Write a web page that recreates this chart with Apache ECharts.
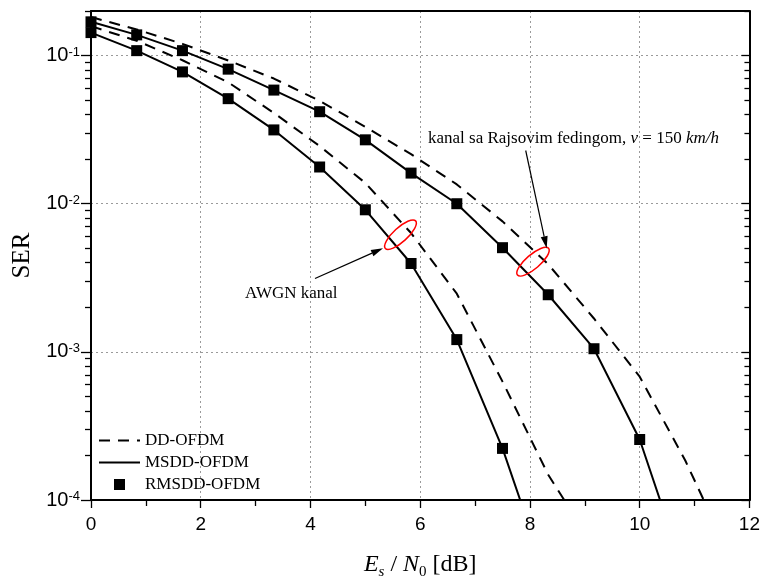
<!DOCTYPE html>
<html><head><meta charset="utf-8">
<script src="https://cdn.jsdelivr.net/npm/echarts@6/dist/echarts.min.js"></script>
<style>html,body{margin:0;padding:0;background:#fff}#c{width:763px;height:585px}</style>
</head><body><div id="c"></div>
<script>
// Es/N0 sample points [dB]
const snr = [0, 0.833, 1.667, 2.5, 3.333, 4.167, 5, 5.833, 6.667, 7.5, 8.333, 9.167, 10, 10.833, 11.667];
// AWGN channel
const awgnDD   = [0.158, 0.126, 0.093, 0.066, 0.041, 0.0245, 0.0138, 0.00634, 0.00247, 0.00063, 0.000148, 0.000048];
const awgnMSDD = [0.143, 0.108, 0.0776, 0.0512, 0.0315, 0.0177, 0.0091, 0.00395, 0.00121, 0.000223, 0.000028];
const awgnRMSDD = [0.143, 0.108, 0.0776, 0.0512, 0.0315, 0.0177, 0.0091, 0.00395, 0.00121, 0.000223];
// Rayleigh fading channel, v = 150 km/h
const rayDD    = [0.182, 0.150, 0.120, 0.0927, 0.070, 0.0495, 0.033, 0.0216, 0.0135, 0.0076, 0.0039, 0.00168, 0.00068, 0.000184, 0.00004];
const rayMSDD  = [0.169, 0.138, 0.108, 0.081, 0.0585, 0.0418, 0.027, 0.0161, 0.0100, 0.00505, 0.00243, 0.00105, 0.000256, 0.000031];
const rayRMSDD = [0.169, 0.138, 0.108, 0.081, 0.0585, 0.0418, 0.027, 0.0161, 0.0100, 0.00505, 0.00243, 0.00105, 0.000256];
// ticks
const yMajorTicks = [1e-4, 1e-3, 1e-2, 1e-1];
const yMinorTicks = [2e-4,3e-4,4e-4,5e-4,6e-4,7e-4,8e-4,9e-4,
                     2e-3,3e-3,4e-3,5e-3,6e-3,7e-3,8e-3,9e-3,
                     2e-2,3e-2,4e-2,5e-2,6e-2,7e-2,8e-2,9e-2,2e-1];
const legendNames = ['DD-OFDM', 'MSDD-OFDM', 'RMSDD-OFDM'];

const pairs = arr => arr.map((v, i) => [snr[i], v]);
const SERIF = '"Liberation Serif", "Times New Roman", serif';
const SANS = '"Liberation Sans", Arial, sans-serif';
const DASH = [11, 8];
const SQUARE = 'path://M0,0H10V10H0Z';

const chart = echarts.init(document.getElementById('c'), null, {renderer: 'canvas'});

function logAxis(pos, ticks, len, inside, labels, split) {
  return {
    type: 'log', logBase: 10, min: 1e-4, max: 0.2, position: pos,
    axisLine: {show: labels, lineStyle: {color: '#000', width: 2}},
    axisTick: {show: true, customValues: ticks, inside: inside, length: len, lineStyle: {color: '#000', width: 1.3}},
    axisLabel: labels ? {
      show: true, customValues: yMajorTicks, margin: 11, color: '#000',
      formatter: v => '{b|10}{s|' + (Math.round(Math.log10(v)) < 0 ? '-' : '') + Math.abs(Math.round(Math.log10(v))) + '}',
      rich: {
        b: {fontFamily: SANS, fontSize: 20, color: '#000', lineHeight: 20},
        s: {fontFamily: SANS, fontSize: 13, color: '#000', lineHeight: 9, verticalAlign: 'top'}
      }
    } : {show: false},
    splitLine: {show: split, lineStyle: {color: '#9a9a9a', type: [2, 3], width: 1}},
    minorTick: {show: false}
  };
}

const yAxes = [
  Object.assign(logAxis('left', yMajorTicks, 10, false, true, true), {
    name: 'SER', nameLocation: 'middle', nameGap: 55,
    nameTextStyle: {fontFamily: SERIF, fontSize: 25, color: '#000'}
  }),
  logAxis('left', yMinorTicks, 6, false, false, false),
  Object.assign(logAxis('right', yMajorTicks, 8, true, false, false), {axisLine: {show: true, lineStyle: {color: '#000', width: 2}}}),
  logAxis('right', yMinorTicks, 5, true, false, false)
];

const option = {
  backgroundColor: '#fff',
  animation: false,
  grid: {left: 91, right: 11, top: 11, bottom: 83, containLabel: false},
  legend: {
    data: legendNames.map(n => n === 'RMSDD-OFDM' ? {name: n, icon: SQUARE} : {name: n, itemStyle: {opacity: 0}}),
    orient: 'vertical', left: 98, top: 432, padding: 0,
    itemWidth: 41, itemHeight: 11, itemGap: 5,
    textStyle: {fontFamily: SERIF, fontSize: 17, color: '#000', lineHeight: 17},
    selectedMode: false
  },
  xAxis: [{
    type: 'value', min: 0, max: 12, interval: 2, position: 'bottom',
    name: '{i|E}{si|s}{n| / }{i|N}{sz|0}{n| [dB]}', nameLocation: 'middle', nameGap: 50,
    nameTextStyle: {
      rich: {
        i: {fontFamily: SERIF, fontStyle: 'italic', fontSize: 24, color: '#000', lineHeight: 30},
        n: {fontFamily: SERIF, fontSize: 24, color: '#000', lineHeight: 30},
        si: {fontFamily: SERIF, fontStyle: 'italic', fontSize: 15, color: '#000', lineHeight: 15, verticalAlign: 'bottom'},
        sz: {fontFamily: SERIF, fontSize: 15, color: '#000', lineHeight: 15, verticalAlign: 'bottom'}
      }
    },
    axisLine: {lineStyle: {color: '#000', width: 2}},
    axisTick: {length: 8, lineStyle: {color: '#000', width: 1.3}},
    minorTick: {show: true, splitNumber: 2, length: 6, lineStyle: {color: '#000', width: 1.3}},
    axisLabel: {fontFamily: SANS, fontSize: 19, color: '#000', margin: 15},
    splitLine: {show: true, lineStyle: {color: '#9a9a9a', type: [2, 3], width: 1}}
  }, {
    type: 'value', min: 0, max: 12, interval: 2, position: 'top',
    axisLine: {lineStyle: {color: '#000', width: 2}},
    axisTick: {show: false}, axisLabel: {show: false}, splitLine: {show: false}
  }],
  yAxis: yAxes,
  series: [
    {name: 'DD-OFDM', type: 'line', data: pairs(awgnDD), symbol: 'none', lineStyle: {color: '#000', width: 2, type: DASH}, itemStyle: {color: '#000'}, z: 2},
    {name: 'DD-OFDM', type: 'line', data: pairs(rayDD), symbol: 'none', lineStyle: {color: '#000', width: 2, type: DASH}, itemStyle: {color: '#000'}, z: 2},
    {name: 'MSDD-OFDM', type: 'line', data: pairs(awgnMSDD), symbol: 'none', lineStyle: {color: '#000', width: 2}, itemStyle: {color: '#000'}, z: 3},
    {name: 'MSDD-OFDM', type: 'line', data: pairs(rayMSDD), symbol: 'none', lineStyle: {color: '#000', width: 2}, itemStyle: {color: '#000'}, z: 3},
    {name: 'RMSDD-OFDM', type: 'scatter', data: pairs(awgnRMSDD), symbol: SQUARE, symbolKeepAspect: true, symbolSize: 11, itemStyle: {color: '#000', opacity: 1}, z: 4},
    {name: 'RMSDD-OFDM', type: 'scatter', data: pairs(rayRMSDD), symbol: SQUARE, symbolKeepAspect: true, symbolSize: 11, itemStyle: {color: '#000', opacity: 1}, z: 4}
  ]
};
chart.setOption(option);

// annotations
function arrow(sx, sy, tx, ty) {
  const dx = tx - sx, dy = ty - sy, L = Math.hypot(dx, dy);
  const ux = dx / L, uy = dy / L, hl = 12, hw = 3.5;
  const bx = tx - ux * hl, by = ty - uy * hl;
  return [
    {type: 'line', shape: {x1: sx, y1: sy, x2: bx, y2: by}, style: {stroke: '#000', lineWidth: 1.2}, z: 10},
    {type: 'polygon', shape: {points: [[tx, ty], [bx - uy * hw, by + ux * hw], [bx + uy * hw, by - ux * hw]]}, style: {fill: '#000'}, z: 10}
  ];
}
const g = [];
g.push({type: 'ellipse', x: 400.5, y: 234.7, rotation: 0.74, shape: {cx: 0, cy: 0, rx: 20.5, ry: 7}, style: {fill: 'none', stroke: '#ff0000', lineWidth: 1.5}, z: 10});
g.push({type: 'ellipse', x: 533, y: 261.7, rotation: 0.71, shape: {cx: 0, cy: 0, rx: 20.5, ry: 7}, style: {fill: 'none', stroke: '#ff0000', lineWidth: 1.5}, z: 10});
g.push(...arrow(315, 278.5, 383, 248.3));
g.push(...arrow(525.7, 150.5, 546.7, 248.3));
g.push({type: 'text', x: 245, y: 293.5, style: {text: 'AWGN kanal', font: '17px ' + SERIF, fill: '#000', verticalAlign: 'middle'}, z: 10});
g.push({type: 'text', x: 428, y: 139, z: 10, style: {
  text: '{n|kanal sa Rajsovim fedingom, }{i|v}{n| = 150 }{i|km/h}', verticalAlign: 'middle',
  rich: {
    n: {fontFamily: SERIF, fontSize: 17, fill: '#000'},
    i: {fontFamily: SERIF, fontSize: 17, fontStyle: 'italic', fill: '#000'}
  }
}});
chart.setOption({graphic: g});
</script>
</body></html>
